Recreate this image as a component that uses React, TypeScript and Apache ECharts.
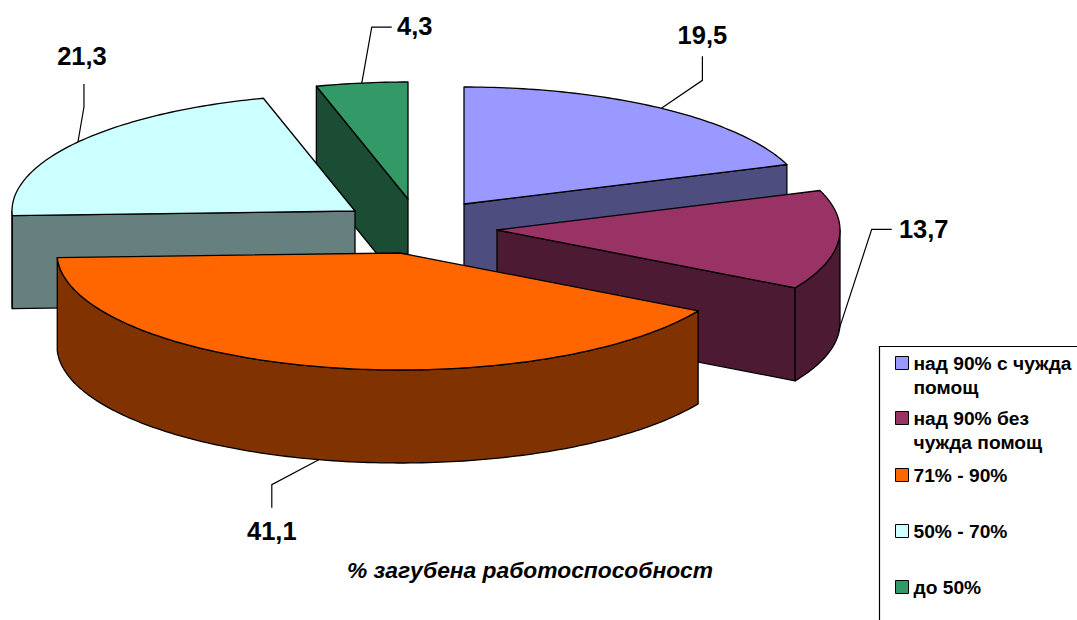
import React, { useEffect, useRef } from "react";
import * as echarts from "echarts";

const categories = ["над 90% с чужда\nпомощ", "над 90% без\nчужда помощ", "71% - 90%", "50% - 70%", "до 50%"];
const values = [19.5, 13.7, 41.1, 21.3, 4.3];
const colors = ["#9999FF", "#993366", "#FF6600", "#CCFFFF", "#339966"];
const chartTitle = "% загубена работоспособност";

// Pie layout: exploded centre of each slice's top face, and back-to-front paint order
const centres = [[464, 204], [497, 230], [400, 253], [355, 211], [408, 199]];
const paintOrder = [4, 3, 0, 1, 2];
const RX = 343, RY = 117, DEPTH = 93;

// Leader lines: relative bends from the rim anchor to the label
const leaders = [
  { bends: [[41, -28], [41, -52]], label: [41, -73] },
  { anchorDepth: 0.97, bends: [[33, -101], [53, -101]], label: [85, -101] },
  { anchorDepth: 1, bends: [[-47, 25], [-47, 48]], label: [-47, 71] },
  { bends: [[6, -35], [6, -58]], label: [4, -86] },
  { bends: [[10, -56], [30, -56]], label: [53, -57] },
];
const legendMarkerY = [363, 418, 475, 531, 587];
const LEGEND_LINE = 24.5;
const FONT = '"Liberation Sans", Arial, sans-serif';

const total = values.reduce((a, b) => a + b, 0);
const startDeg = (i: number) => (values.slice(0, i).reduce((a, b) => a + b, 0) / total) * 360;

function dark(hex: string) {
  const n = parseInt(hex.slice(1), 16);
  const h = (v: number) => Math.round(v / 2);
  return `rgb(${h((n >> 16) & 255)},${h((n >> 8) & 255)},${h(n & 255)})`;
}

function rim(c: number[], deg: number, dy = 0) {
  const t = (deg * Math.PI) / 180;
  return [c[0] + RX * Math.sin(t), c[1] - RY * Math.cos(t) + dy];
}

function arc(c: number[], a: number, b: number, dy = 0) {
  const pts: number[][] = [];
  const n = Math.max(2, Math.ceil(Math.abs(b - a)));
  for (let k = 0; k <= n; k++) pts.push(rim(c, a + ((b - a) * k) / n, dy));
  return pts;
}

function renderSlice(i: number) {
  const c = centres[i];
  const a = startDeg(i);
  const b = a + (values[i] / total) * 360;
  const side = { fill: dark(colors[i]), stroke: "#000", lineWidth: 1.3, lineJoin: "round" };
  const poly = (points: number[][], style: any) => ({ type: "polygon", shape: { points }, style });
  const children: any[] = [];
  const wall = (deg: number) => {
    const p = rim(c, deg);
    children.push(poly([c, p, [p[0], p[1] + DEPTH], [c[0], c[1] + DEPTH]], side));
  };
  // A cut face is seen only when it turns towards the viewer
  if (Math.sin((a * Math.PI) / 180) < -1e-6) wall(a);
  if (Math.sin((b * Math.PI) / 180) > 1e-6) wall(b);
  const va = Math.max(a, 90), vb = Math.min(b, 270);
  if (vb > va) {
    children.push(poly([...arc(c, va, vb), ...arc(c, vb, va, DEPTH)], side));
  }
  children.push(poly([c, ...arc(c, a, b)], { fill: colors[i], stroke: "#000", lineWidth: 1.3, lineJoin: "round" }));

  const l: any = leaders[i];
  const anchor = rim(c, (a + b) / 2, (l.anchorDepth || 0) * DEPTH);
  children.push({
    type: "polyline",
    shape: { points: [anchor, ...l.bends.map((d: number[]) => [anchor[0] + d[0], anchor[1] + d[1]])] },
    style: { fill: "none", stroke: "#000", lineWidth: 1.2 },
  });
  children.push({
    type: "text",
    style: {
      x: anchor[0] + l.label[0],
      y: anchor[1] + l.label[1],
      text: String(values[i]).replace(".", ","),
      font: `bold 25.5px ${FONT}`,
      fill: "#000",
      align: "center",
      verticalAlign: "middle",
    },
  });
  return { type: "group", children };
}

export default function App() {
  const ref = useRef<HTMLDivElement>(null);
  useEffect(() => {
    const chart = echarts.init(ref.current!, null, { renderer: "svg" });
    chart.setOption({
      animation: false,
      backgroundColor: "#fff",
      title: {
        text: chartTitle,
        left: 525,
        top: 553,
        textAlign: "center",
        textStyle: { fontFamily: FONT, fontSize: 22.8, fontWeight: "bold", fontStyle: "italic", color: "#000" },
      },
      legend: categories.map((name, i) => {
        const multi = name.includes("\n");
        const h = (multi ? 3 : 1) * LEGEND_LINE;
        return {
          data: [name],
          left: 895,
          top: legendMarkerY[i] - h / 2,
          itemWidth: 13,
          itemHeight: 13,
          icon: "rect",
          padding: 0,
          selectedMode: false,
          // a leading blank line centres the marker on the first text line
          formatter: (n: string) => (multi ? "\n" + n : n),
          itemStyle: { borderColor: "#000", borderWidth: 1 },
          textStyle: { fontFamily: FONT, fontSize: 19.2, fontWeight: "bold", color: "#000", lineHeight: LEGEND_LINE },
        };
      }),
      graphic: [
        {
          type: "polyline",
          shape: { points: [[879.5, 620], [879.5, 346.5], [1077, 346.5]] },
          style: { fill: "none", stroke: "#000", lineWidth: 1.2 },
        },
      ],
      series: paintOrder.map((i, order) => ({
        type: "custom",
        name: categories[i],
        coordinateSystem: "none",
        z: 2 + order,
        silent: true,
        itemStyle: { color: colors[i] },
        data: [values[i]],
        renderItem: () => renderSlice(i),
      })),
    });
    return () => chart.dispose();
  }, []);
  return <div ref={ref} style={{ position: "fixed", left: 0, top: 0, width: 1077, height: 620 }} />;
}
